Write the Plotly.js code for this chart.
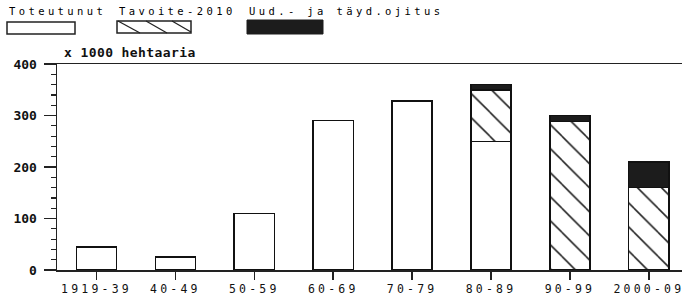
<!DOCTYPE html>
<html>
<head>
<meta charset="utf-8">
<script src="https://cdn.plot.ly/plotly-3.0.1.min.js"></script>
<style>
html,body{margin:0;padding:0;background:#fff;}
#chart{width:682px;height:297px;}
</style>
</head>
<body>
<div id="chart"></div>
<script>
// ---- data ----
const categories = ["1919-39","40-49","50-59","60-69","70-79","80-89","90-99","2000-09"];
const toteutunut = [45, 25, 110, 290, 328, 250, 0, 0];
const tavoite2010 = [0, 0, 0, 0, 0, 100, 288, 160];
const uudJaTayd = [0, 0, 0, 0, 0, 10, 12, 50];
const seriesNames = ["Toteutunut", "Tavoite-2010", "Uud.- ja täyd.ojitus"];
const yTicks = [0, 100, 200, 300, 400];
const yTitle = "x 1000 hehtaaria";

// ---- layout helpers (pixel -> paper) ----
const W = 682, H = 297, ML = 57, MR = 0, MT = 64, MB = 27;
const PW = W - ML - MR, PH = H - MT - MB;
const px = x => (x - ML) / PW;
const py = y => (H - MB - y) / PH;

const mono = "DejaVu Sans Mono, monospace";
const sp = (t, s) => '<span style="letter-spacing:' + s + 'px">' + t + '</span>';

const lineStyle = {color: "#111", width: 1.5};

const traces = [
  {type: "bar", x: categories, y: toteutunut, name: seriesNames[0],
   marker: {color: "#ffffff", line: lineStyle}},
  {type: "bar", x: categories, y: tavoite2010, name: seriesNames[1],
   marker: {color: "#ffffff", line: lineStyle,
            pattern: {shape: "\\", fgcolor: "#222", bgcolor: "#ffffff", size: 17, solidity: 0.09}}},
  {type: "bar", x: categories, y: uudJaTayd, name: seriesNames[2],
   marker: {color: "#1c1c1c", line: lineStyle}}
];

// custom legend (swatch under text)
const shapes = [
  {type: "rect", xref: "paper", yref: "paper", x0: px(7), x1: px(75), y0: py(22), y1: py(34),
   line: {color: "#222", width: 1.5}, fillcolor: "#fff"},
  {type: "rect", xref: "paper", yref: "paper", x0: px(117), x1: px(191), y0: py(21), y1: py(33),
   line: {color: "#222", width: 1.5}, fillcolor: "#fff"},
  {type: "line", xref: "paper", yref: "paper", x0: px(118), x1: px(140), y0: py(21), y1: py(33), line: {color: "#222", width: 1.3}},
  {type: "line", xref: "paper", yref: "paper", x0: px(146), x1: px(167), y0: py(21), y1: py(33), line: {color: "#222", width: 1.3}},
  {type: "line", xref: "paper", yref: "paper", x0: px(172), x1: px(191), y0: py(21), y1: py(32), line: {color: "#222", width: 1.3}},
  {type: "rect", xref: "paper", yref: "paper", x0: px(247), x1: px(323), y0: py(20), y1: py(34),
   line: {color: "#1c1c1c", width: 1}, fillcolor: "#1c1c1c"}
];

const legX = [7, 117, 247];
const annotations = seriesNames.map((n, i) => ({
  xref: "paper", yref: "paper", x: px(legX[i]), y: py(10.5), xanchor: "left", yanchor: "middle",
  text: sp(n, 3.4), showarrow: false, font: {family: mono, size: 10.5, color: "#000"}
}));
annotations.push({
  xref: "paper", yref: "paper", x: px(62), y: py(52), xanchor: "left", yanchor: "middle",
  text: '<b>' + sp(yTitle, 0.4) + '</b>', showarrow: false, font: {family: mono, size: 13, color: "#111"}
});

const layout = {
  width: W, height: H,
  margin: {l: ML, r: MR, t: MT, b: MB, pad: 0},
  paper_bgcolor: "#fff", plot_bgcolor: "#fff",
  barmode: "stack", bargap: 0.49,
  showlegend: false,
  xaxis: {
    type: "category", range: [-0.5, 7.42], fixedrange: true,
    showline: true, linecolor: "#222", linewidth: 1.5, mirror: true,
    ticks: "outside", ticklen: 8, tickwidth: 1.5, tickcolor: "#222",
    tickvals: categories, ticktext: categories.map(c => sp(c, 3.2)),
    tickfont: {family: mono, size: 11.5, color: "#111"},
    showgrid: false, zeroline: false
  },
  yaxis: {
    range: [0, 400], fixedrange: true,
    showline: true, linecolor: "#222", linewidth: 1.5,
    ticks: "outside", ticklen: 12, tickwidth: 1.5, tickcolor: "#222",
    tickvals: yTicks, ticktext: yTicks.map(v => '<b>' + v + '</b>'),
    tickfont: {family: mono, size: 13, color: "#111"},
    ticklabelstandoff: 4,
    minor: {dtick: 20, ticks: "outside", ticklen: 5, tickwidth: 1.2, tickcolor: "#222", showgrid: false},
    showgrid: false, zeroline: false
  },
  shapes: shapes,
  annotations: annotations
};

Plotly.newPlot("chart", traces, layout, {displayModeBar: false, staticPlot: true});
</script>
</body>
</html>
